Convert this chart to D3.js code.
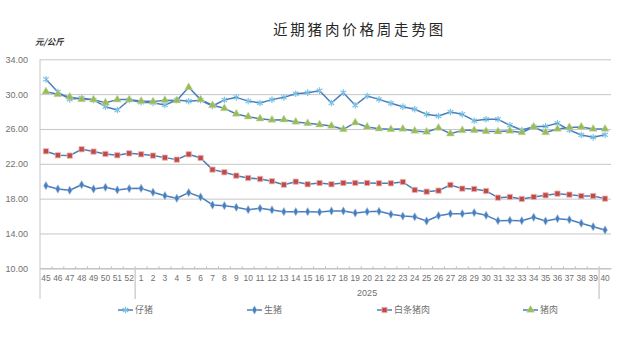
<!DOCTYPE html>
<html>
<head>
<meta charset="utf-8">
<script src="https://cdn.jsdelivr.net/npm/d3@7"></script>
<style>
  body { margin: 0; background: #fff; }
  svg { display: block; }
</style>
</head>
<body>
<svg id="chart" width="635" height="339"></svg>
<script>
// Week numbers: late 2024 (45–52) followed by 2025 weeks 1–40
const weeks = ["45","46","47","48","49","50","51","52",
  "1","2","3","4","5","6","7","8","9","10","11","12","13","14","15","16","17","18","19","20",
  "21","22","23","24","25","26","27","28","29","30","31","32","33","34","35","36","37","38","39","40"];

// Prices in 元/公斤
const piglet = [31.70,30.25,29.40,29.55,29.33,28.56,28.18,29.33,
  29.06,29.00,28.75,29.33,29.18,29.30,28.64,29.33,29.63,29.20,28.98,29.37,29.63,30.05,30.17,30.40,28.98,30.17,28.72,29.79,
  29.40,28.95,28.56,28.26,27.68,27.49,27.95,27.68,26.95,27.11,27.11,26.42,25.88,26.26,26.30,26.65,25.88,25.30,25.04,25.34];

const hog = [19.49,19.11,18.96,19.60,19.11,19.30,19.00,19.15,
  19.18,18.73,18.34,18.04,18.69,18.19,17.27,17.19,17.00,16.73,16.89,16.70,16.50,16.50,16.50,16.46,16.58,16.58,16.35,16.50,
  16.54,16.20,16.00,15.91,15.43,16.04,16.27,16.27,16.39,16.08,15.47,15.50,15.47,15.86,15.43,15.70,15.58,15.17,14.78,14.40];

const carcass = [23.44,22.98,22.94,23.67,23.40,23.13,22.98,23.20,
  23.09,22.94,22.71,22.48,23.09,22.67,21.33,21.03,20.64,20.37,20.26,20.00,19.60,19.95,19.65,19.80,19.65,19.80,19.80,19.80,
  19.76,19.76,19.91,19.00,18.80,18.92,19.57,19.15,19.11,18.88,18.11,18.19,17.96,18.19,18.38,18.57,18.46,18.30,18.30,18.00];

const pork = [30.28,29.98,29.67,29.40,29.37,29.02,29.37,29.37,
  29.20,29.14,29.30,29.26,30.78,29.37,28.72,28.37,27.72,27.41,27.18,27.03,27.07,26.80,26.65,26.50,26.34,25.96,26.72,26.23,
  26.03,25.96,26.00,25.77,25.65,26.11,25.46,25.84,25.84,25.73,25.70,25.77,25.60,26.23,25.60,25.99,26.18,26.23,25.99,25.99];

const yTicks = [10, 14, 18, 22, 26, 30, 34];

// Year groups along the category axis (index ranges, end exclusive)
const yearGroups = [
  { label: "", start: 0, end: 8 },
  { label: "2025", start: 8, end: 47 },
  { label: "", start: 47, end: 48 }
];

const seriesNames = ["仔猪", "生猪", "白条猪肉", "猪肉"];

const LINE = "#4a7ebb";
const svg = d3.select("#chart");
const plotLeft = 40, plotRight = 611, plotTop = 59.3, plotBottom = 268.3;

const x = d3.scaleBand().domain(d3.range(weeks.length)).range([plotLeft, plotRight]);
const y = d3.scaleLinear().domain([10, 34]).range([plotBottom, plotTop]);

// Title
svg.append("text")
  .attr("x", 273).attr("y", 35)
  .attr("font-family", "'Noto Sans CJK SC', sans-serif")
  .attr("font-size", 14.5)
  .attr("letter-spacing", 2.8)
  .attr("fill", "#262626")
  .text("近期猪肉价格周走势图");

// Unit label
svg.append("text")
  .attr("x", 35).attr("y", 45)
  .attr("font-family", "'Noto Sans CJK SC', sans-serif")
  .attr("font-size", 8.5)
  .attr("font-weight", "bold")
  .attr("font-style", "italic")
  .attr("fill", "#333")
  .text("元/公斤");

// Horizontal gridlines + value labels
const yAxis = svg.append("g")
  .attr("transform", `translate(${plotLeft},0)`)
  .call(d3.axisLeft(y).tickValues(yTicks).tickSize(-(plotRight - plotLeft)).tickPadding(12)
    .tickFormat(d3.format(".2f")));
yAxis.select(".domain").remove();
yAxis.selectAll(".tick line").attr("stroke", "#c6c6c6").attr("stroke-width", 1);
yAxis.selectAll(".tick text")
  .attr("font-family", "'Liberation Sans', Arial, sans-serif")
  .attr("font-size", 9).attr("fill", "#707070");

// Vertical value-axis line, extending down past the category labels
svg.append("line")
  .attr("x1", plotLeft).attr("x2", plotLeft).attr("y1", plotTop).attr("y2", 299)
  .attr("stroke", "#c6c6c6");

// Category axis
const xAxis = svg.append("g")
  .attr("transform", `translate(0,${plotBottom})`)
  .call(d3.axisBottom(x).tickSize(0).tickPadding(7).tickFormat(i => weeks[i]));
xAxis.select(".domain").attr("stroke", "#bdbdbd");
xAxis.selectAll(".tick text")
  .attr("font-family", "'Liberation Sans', Arial, sans-serif")
  .attr("font-size", 8.4).attr("fill", "#707070");

// Small tick marks at category boundaries
svg.append("g").selectAll("line")
  .data(d3.range(1, weeks.length))
  .join("line")
  .attr("x1", i => x(i)).attr("x2", i => x(i))
  .attr("y1", plotBottom - 2).attr("y2", plotBottom)
  .attr("stroke", "#bdbdbd");

// Year group separators and labels
yearGroups.slice(1).forEach(g => {
  svg.append("line")
    .attr("x1", x(g.start)).attr("x2", x(g.start))
    .attr("y1", plotBottom).attr("y2", 299)
    .attr("stroke", "#d0d0d0").attr("stroke-width", 1.5);
});
yearGroups.filter(g => g.label).forEach(g => {
  const cx = (x(g.start) + x(g.end - 1) + x.bandwidth()) / 2;
  svg.append("text")
    .attr("x", cx).attr("y", 296)
    .attr("text-anchor", "middle")
    .attr("font-family", "'Liberation Sans', Arial, sans-serif")
    .attr("font-size", 9).attr("fill", "#707070")
    .text(g.label);
});

// Marker shapes
function starPath(r) {
  const a = r * 0.85, b = r * 0.6;
  return `M0,${-r}L0,${r}M${-a},${-b}L${a},${b}M${-a},${b}L${a},${-b}`;
}
const markers = [
  { data: piglet, draw: s => s.append("path").attr("d", starPath(3.3)).attr("fill", "none")
      .attr("stroke", "#7cc3e6").attr("stroke-width", 1.2) },
  { data: hog, draw: s => s.append("path").attr("d", d3.symbol(d3.symbolDiamond, 20)())
      .attr("fill", "#4a7ebb").attr("stroke", "#9ec0e6").attr("stroke-width", 0.6) },
  { data: carcass, draw: s => s.append("path").attr("d", d3.symbol(d3.symbolSquare, 28)())
      .attr("fill", "#be4b48").attr("stroke", "#f0b6b4").attr("stroke-width", 0.8) },
  { data: pork, draw: s => s.append("path").attr("d", d3.symbol(d3.symbolTriangle, 28)())
      .attr("fill", "#9bbb59").attr("stroke", "#c9dca6").attr("stroke-width", 0.5) }
];

const line = d3.line()
  .x((d, i) => x(i) + x.bandwidth() / 2)
  .y(d => y(d));

markers.forEach(m => {
  svg.append("path")
    .datum(m.data)
    .attr("d", line)
    .attr("fill", "none")
    .attr("stroke", LINE)
    .attr("stroke-width", 1.5)
    .attr("stroke-linejoin", "round");
  svg.append("g").selectAll("g")
    .data(m.data)
    .join("g")
    .attr("transform", (d, i) => `translate(${x(i) + x.bandwidth() / 2},${y(d)})`)
    .each(function () { m.draw(d3.select(this)); });
});

// Legend
const legendX = [118, 247, 377, 523];
const legendY = 310;
markers.forEach((m, k) => {
  const g = svg.append("g").attr("transform", `translate(${legendX[k]},${legendY})`);
  g.append("line").attr("x1", 0).attr("x2", 15).attr("y1", 0).attr("y2", 0)
    .attr("stroke", LINE).attr("stroke-width", 1.5);
  m.draw(g.append("g").attr("transform", "translate(7.5,0)"));
  g.append("text")
    .attr("x", 17).attr("y", 3.2)
    .attr("font-family", "'Noto Sans CJK SC', sans-serif")
    .attr("font-size", 9).attr("fill", "#707070")
    .text(seriesNames[k]);
});
</script>
</body>
</html>
